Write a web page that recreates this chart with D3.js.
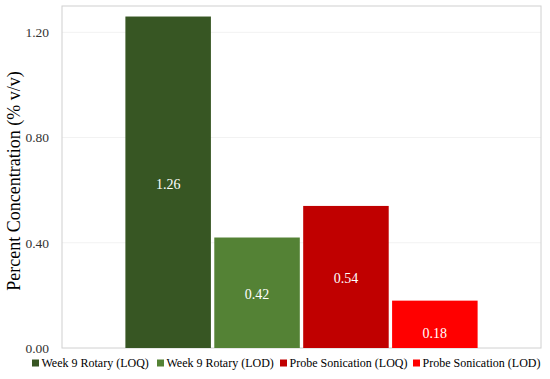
<!DOCTYPE html>
<html><head><meta charset="utf-8">
<script src="https://cdn.jsdelivr.net/npm/d3@7"></script>
<style>body{margin:0;background:#fff;} svg{display:block;font-family:"Liberation Serif","DejaVu Serif",serif;}</style>
</head><body><svg id="c" width="550" height="379"></svg>
<script>
const series = ["Week 9 Rotary (LOQ)", "Week 9 Rotary (LOD)", "Probe Sonication (LOQ)", "Probe Sonication (LOD)"];
const values = [1.26, 0.42, 0.54, 0.18];
const colors = ["#375623", "#548235", "#C00000", "#FF0000"];
const yTicks = [0, 0.4, 0.8, 1.2];
const yLabel = "Percent Concentration (% v/v)";

const svg = d3.select("#c");
const L = 62, R = 541, T = 6, B = 348;
const y = d3.scaleLinear().domain([0, 1.3]).range([B, T]);
const cx = (L + R) / 2, half = 177.8;
const x = d3.scaleBand().domain(series).range([cx - half, cx + half]).paddingInner(0.038).paddingOuter(0.019);

// gridlines
svg.append("g").selectAll("line").data(yTicks.filter(d => d > 0)).join("line")
  .attr("x1", L).attr("x2", R).attr("y1", d => y(d)).attr("y2", d => y(d))
  .attr("stroke", "#f2f2f2").attr("stroke-width", 1);

// plot border
svg.append("rect").attr("x", L).attr("y", T).attr("width", R - L).attr("height", B - T)
  .attr("fill", "none").attr("stroke", "#d0d0d0").attr("stroke-width", 1);

// bars
svg.append("g").selectAll("rect").data(values).join("rect")
  .attr("x", (d, i) => x(series[i])).attr("width", x.bandwidth())
  .attr("y", d => y(d)).attr("height", d => B - y(d))
  .attr("fill", (d, i) => colors[i]);

// labels: centered in bar, or at the inside base when the bar is short
svg.append("g").selectAll("text").data(values).join("text")
  .attr("x", (d, i) => x(series[i]) + x.bandwidth() / 2)
  .attr("y", d => (B - y(d)) < 60 ? B - 15 : (y(d) + B) / 2 + 1.5)
  .attr("dy", "0.35em").attr("text-anchor", "middle")
  .attr("fill", "#fff").attr("font-size", 14)
  .text(d => d.toFixed(2));

// y axis
const ya = d3.axisLeft(y).tickValues(yTicks).tickFormat(d3.format(".2f")).tickSize(0).tickPadding(13);
const g = svg.append("g").attr("transform", `translate(${L},0)`).call(ya);
g.select(".domain").remove();
g.selectAll("text").attr("font-size", 13.5).attr("fill", "#333").attr("font-family", "Liberation Serif, serif");

// y label
svg.append("text").attr("transform", `translate(20,${(T + B) / 2 + 4}) rotate(-90)`)
  .attr("text-anchor", "middle").attr("font-size", 18).attr("fill", "#000").text(yLabel);

// legend
const lg = svg.append("g").attr("transform", "translate(0,363)");
const itemX = [32, 157, 280, 413];
series.forEach((s, i) => {
  const it = lg.append("g").attr("transform", `translate(${itemX[i]},0)`);
  it.append("rect").attr("x", 0).attr("y", -3.5).attr("width", 7).attr("height", 7).attr("fill", colors[i]);
  it.append("text").attr("x", 9.5).attr("y", 0).attr("dy", "0.35em").attr("font-size", 12).attr("fill", "#000").text(s);
});
</script></body></html>
